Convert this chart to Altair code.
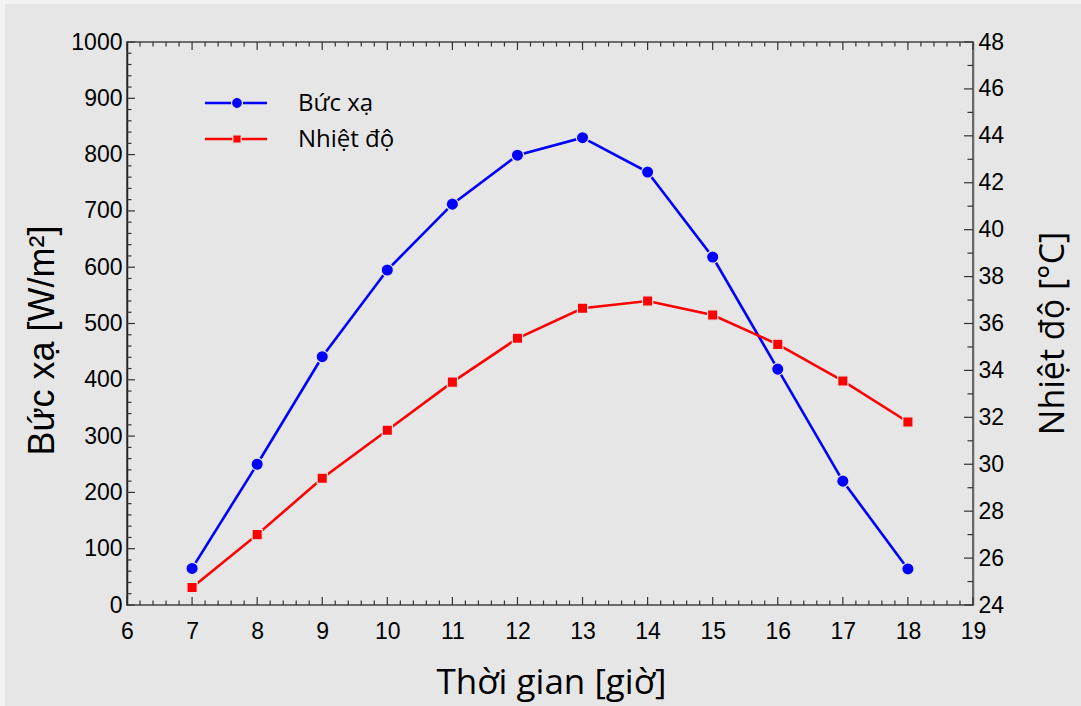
import altair as alt
import pandas as pd

# Hourly measurements
hours = [7, 8, 9, 10, 11, 12, 13, 14, 15, 16, 17, 18]
buc_xa = [65, 250, 441, 595, 712, 799, 830, 769, 618, 419, 220, 64]          # W/m2
nhiet_do = [24.75, 27.0, 29.4, 31.45, 33.5, 35.37, 36.65, 36.96, 36.36, 35.11, 33.55, 31.8]  # deg C

# Axis tick values
x_labels = list(range(6, 20))
y_left_labels = list(range(0, 1001, 100))
y_right_labels = list(range(24, 49, 2))
x_minor = [round(6 + 0.2 * i, 1) for i in range(66) if i % 5]
y_left_minor = [v for v in range(0, 1001, 20) if v % 100]
y_right_minor = list(range(25, 48, 2))

legend_labels = ["Bức xạ", "Nhiệt độ"]
series_colors = ["#0000ff", "#ff0000"]

W, H = 846, 563
BG = "#e6e6e6"
TICK = "#333333"
LABEL_FONT = "Liberation Sans"
TITLE_FONT = "Open Sans"

df = pd.DataFrame({"gio": hours, "bucxa": buc_xa, "nhietdo": nhiet_do})

xscale = alt.Scale(domain=[6, 19], nice=False, zero=False)
yl_scale = alt.Scale(domain=[0, 1000], nice=False, zero=False)
yr_scale = alt.Scale(domain=[24, 48], nice=False, zero=False)

x_axis = alt.Axis(
    values=x_labels, format="d", ticks=False, domain=False, grid=False,
    labelFont=LABEL_FONT, labelFontSize=23, labelColor="black", labelPadding=15,
    labelFlush=False, labelOverlap=False,
    title="Thời gian [giờ]", titleFont=TITLE_FONT, titleFontSize=35,
    titleFontWeight="normal", titleColor="black",
    titleX=424, titleY=88, titleAlign="center", titleBaseline="alphabetic",
)
yl_axis = alt.Axis(
    orient="left", values=y_left_labels, format="d", ticks=False,
    domain=True, domainColor="#222222", domainWidth=1.5, grid=False,
    labelFont=LABEL_FONT, labelFontSize=23, labelColor="black", labelPadding=5,
    labelFlush=False, labelOverlap=False,
    title="Bức xạ [W/m²]", titleFont=LABEL_FONT, titleFontSize=36,
    titleFontWeight="normal", titleColor="black", titleAngle=270,
    titleX=-85, titleY=298, titleAlign="center", titleBaseline="middle",
)
yr_axis = alt.Axis(
    orient="right", values=y_right_labels, format="d", ticks=False,
    domain=True, domainColor="#666666", domainWidth=1.5, grid=False,
    labelFont=LABEL_FONT, labelFontSize=23, labelColor="black", labelPadding=5,
    labelFlush=False, labelOverlap=False,
    title="Nhiệt độ [°C]", titleFont=TITLE_FONT, titleFontSize=34,
    titleFontWeight="normal", titleColor="black", titleAngle=270,
    titleX=80, titleY=291, titleAlign="center", titleBaseline="middle",
)

one_row = alt.Data(values=[{"k": 1}])


def x_ticks(values, y0, y1):
    return alt.Chart(pd.DataFrame({"gio": values})).mark_rule(
        color=TICK, strokeWidth=1.2
    ).encode(
        x=alt.X("gio:Q", scale=xscale, axis=x_axis),
        y=alt.value(y0), y2=alt.value(y1),
    )


def y_ticks(values, field, scale, axis, x0, x1):
    return alt.Chart(pd.DataFrame({field: values})).mark_rule(
        color=TICK, strokeWidth=1.2
    ).encode(
        y=alt.Y(f"{field}:Q", scale=scale, axis=axis),
        x=alt.value(x0), x2=alt.value(x1),
    )


# Light border strips at the top and left edge of the figure
strip_top = alt.Chart(one_row).mark_rect(color="#f2f2f2").encode(
    x=alt.value(-127), x2=alt.value(W + 108), y=alt.value(-42), y2=alt.value(-38)
)
strip_left = alt.Chart(one_row).mark_rect(color="#f2f2f2").encode(
    x=alt.value(-127), x2=alt.value(-122), y=alt.value(-42), y2=alt.value(H + 101)
)

blue_line = alt.Chart(df).mark_line(color=series_colors[0], strokeWidth=2.6).encode(
    x=alt.X("gio:Q", scale=xscale, axis=x_axis),
    y=alt.Y("bucxa:Q", scale=yl_scale, axis=yl_axis),
)
blue_pts = alt.Chart(df).mark_point(
    shape="circle", filled=True, fill=series_colors[0], stroke=BG,
    strokeWidth=1.2, size=150, opacity=1,
).encode(
    x=alt.X("gio:Q", scale=xscale, axis=x_axis),
    y=alt.Y("bucxa:Q", scale=yl_scale, axis=yl_axis),
)

red_line = alt.Chart(df).mark_line(color=series_colors[1], strokeWidth=2.6).encode(
    x=alt.X("gio:Q", scale=xscale, axis=x_axis),
    y=alt.Y("nhietdo:Q", scale=yr_scale, axis=yr_axis),
)
red_pts = alt.Chart(df).mark_point(
    shape="square", filled=True, fill=series_colors[1], stroke=BG,
    strokeWidth=1.2, size=105, opacity=1,
).encode(
    x=alt.X("gio:Q", scale=xscale, axis=x_axis),
    y=alt.Y("nhietdo:Q", scale=yr_scale, axis=yr_axis),
)

# Legend drawn inside the plot area
legend_layers = []
for i, (lab, col, shp, sz) in enumerate(
    zip(legend_labels, series_colors, ["circle", "square"], [120, 70])
):
    ly = 61 + 36 * i
    legend_layers.append(
        alt.Chart(one_row).mark_rule(color=col, strokeWidth=2.6).encode(
            x=alt.value(78), x2=alt.value(140), y=alt.value(ly)
        )
    )
    legend_layers.append(
        alt.Chart(one_row).mark_point(
            shape=shp, filled=True, fill=col, stroke=BG, strokeWidth=1.2,
            size=sz, opacity=1,
        ).encode(x=alt.value(110), y=alt.value(ly))
    )
    legend_layers.append(
        alt.Chart(one_row).mark_text(
            font=TITLE_FONT, fontSize=24, color="black", align="left",
            baseline="middle",
        ).encode(x=alt.value(171), y=alt.value(ly + 1), text=alt.value(lab))
    )

left_group = alt.layer(
    blue_line,
    strip_top, strip_left,
    x_ticks(x_labels, H, H - 8), x_ticks(x_minor, H, H - 4.5),
    x_ticks(x_labels, 0, 8), x_ticks(x_minor, 0, 4.5),
    y_ticks(y_left_labels, "bucxa", yl_scale, yl_axis, 0, 8),
    y_ticks(y_left_minor, "bucxa", yl_scale, yl_axis, 0, 4.5),
    blue_pts,
    *legend_layers,
)

right_group = alt.layer(
    red_line,
    y_ticks(y_right_labels, "nhietdo", yr_scale, yr_axis, W, W - 9),
    y_ticks(y_right_minor, "nhietdo", yr_scale, yr_axis, W, W - 5.5),
    red_pts,
)

chart = alt.layer(left_group, right_group).resolve_scale(
    y="independent"
).properties(
    width=W, height=H,
    background=BG,
    autosize=alt.AutoSizeParams(type="none"),
    padding={"left": 127, "top": 42, "right": 108, "bottom": 101},
).configure_view(
    stroke="#444444", strokeWidth=1.5, fill=None
)

chart.save("out.html", embed_options={"renderer": "svg", "actions": False})
